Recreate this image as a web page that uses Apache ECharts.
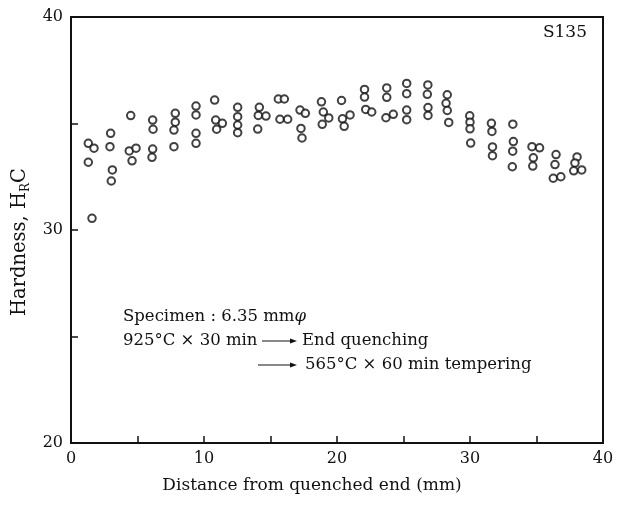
<!DOCTYPE html>
<html>
<head>
<meta charset="utf-8">
<script src="https://cdn.jsdelivr.net/npm/echarts@6/dist/echarts.min.js"></script>
<style>
html, body { margin: 0; padding: 0; background: #fff; }
#main { width: 621px; height: 505px; }
</style>
</head>
<body>
<div id="main"></div>
<script>
// distance from quenched end (mm) and hardness (HRC)
const distanceMm = [
	1.30, 1.73, 1.30, 1.58,
	2.98, 2.93, 3.11, 3.03,
	4.49, 4.38, 4.89, 4.59,
	6.14, 6.17, 6.14, 6.09,
	7.84, 7.84, 7.74, 7.74,
	9.40, 9.40, 9.40, 9.40,
	10.80, 10.88, 11.38, 10.95,
	12.53, 12.53, 12.53, 12.53,
	14.16, 14.08, 14.66, 14.04,
	15.59, 16.04, 15.71, 16.29,
	17.22, 17.62, 17.29, 17.37,
	18.83, 18.97, 19.38, 18.89,
	20.34, 20.98, 20.41, 20.54,
	22.07, 22.07, 22.16, 22.61,
	23.74, 23.74, 24.23, 23.68,
	25.24, 25.24, 25.24, 25.24,
	26.83, 26.79, 26.84, 26.84,
	28.29, 28.20, 28.29, 28.40,
	29.98, 30.00, 30.00, 30.05,
	31.61, 31.65, 31.69, 31.69,
	33.22, 33.26, 33.21, 33.18,
	34.66, 35.23, 34.76, 34.72,
	36.47, 36.39, 36.26, 36.83,
	38.05, 37.89, 37.80, 38.40
];
const hardnessHRC = [
	34.07, 33.84, 33.18, 30.55,
	34.54, 33.91, 32.82, 32.30,
	35.37, 33.71, 33.84, 33.25,
	35.16, 34.73, 33.80, 33.41,
	35.48, 35.06, 34.69, 33.91,
	35.82, 35.40, 34.54, 34.07,
	36.10, 35.16, 35.01, 34.73,
	35.76, 35.32, 34.93, 34.57,
	35.76, 35.38, 35.35, 34.74,
	36.15, 36.15, 35.20, 35.20,
	35.63, 35.48, 34.77, 34.32,
	36.02, 35.54, 35.26, 34.96,
	36.08, 35.40, 35.22, 34.87,
	36.60, 36.24, 35.66, 35.54,
	36.67, 36.23, 35.43, 35.27,
	36.88, 36.40, 35.63, 35.18,
	36.81, 36.37, 35.75, 35.38,
	36.35, 35.95, 35.61, 35.05,
	35.36, 35.06, 34.75, 34.08,
	35.01, 34.63, 33.90, 33.49,
	34.97, 34.15, 33.70, 32.97,
	33.91, 33.86, 33.39, 33.00,
	33.54, 33.07, 32.43, 32.50,
	33.43, 33.15, 32.78, 32.82
];
const xTickLabels = [0, 10, 20, 30, 40];
const yTickLabels = [20, 30, 40];

const serif = 'DejaVu Serif';
const ink = '#111';
const chart = echarts.init(document.getElementById('main'));
const points = distanceMm.map((d, i) => [d, hardnessHRC[i]]);

// arrow: line + small head
function arrow(x1, x2, y){
	return {
		type: 'group',
		children: [
			{type: 'line', shape: {x1: x1, y1: y, x2: x2 - 5, y2: y}, style: {stroke: ink, lineWidth: 1}},
			{type: 'polygon', shape: {points: [[x2, y], [x2 - 7, y - 2.5], [x2 - 7, y + 2.5]]}, style: {fill: ink}}
		]
	};
}
function note(text, x, y){
	return {
		type: 'text', x: x, y: y,
		style: {text: text, fontFamily: serif, fontSize: 16.5, fill: ink, align: 'left', verticalAlign: 'middle'}
	};
}

const option = {
	animation: false,
	backgroundColor: '#fff',
	grid: {
		left: 71, right: 18, top: 17, bottom: 62,
		show: true, borderColor: ink, borderWidth: 2
	},
	xAxis: {
		type: 'value', min: 0, max: 40, interval: 5,
		name: 'Distance from quenched end (mm)',
		nameLocation: 'middle', nameGap: 34,
		nameTextStyle: {fontFamily: serif, fontSize: 17, color: ink, padding: [0, 50, 0, 0]},
		axisLine: {show: true, lineStyle: {color: ink, width: 2}},
		axisTick: {show: true, inside: true, length: 7, lineStyle: {color: ink, width: 1.5}},
		axisLabel: {
			margin: 8, fontFamily: serif, fontSize: 16, color: ink,
			formatter: v => xTickLabels.includes(v) ? String(v) : ''
		},
		splitLine: {show: false}
	},
	yAxis: {
		type: 'value', min: 20, max: 40, interval: 5,
		name: '{t|Hardness, H}{s|R}{t|C}',
		nameLocation: 'middle', nameGap: 37,
		nameTextStyle: {
			padding: [0, 24, 0, 0],
			rich: {
				t: {fontFamily: serif, fontSize: 19.5, color: ink, lineHeight: 24},
				s: {fontFamily: serif, fontSize: 12, color: ink, lineHeight: 24, verticalAlign: 'bottom'}
			}
		},
		axisLine: {show: true, lineStyle: {color: ink, width: 2}},
		axisTick: {show: true, inside: true, length: 7, lineStyle: {color: ink, width: 1.5}},
		axisLabel: {
			margin: 8, fontFamily: serif, fontSize: 16, color: ink,
			formatter: v => yTickLabels.includes(v) ? String(v) : ''
		},
		splitLine: {show: false}
	},
	graphic: [
		{
			type: 'text', x: 587, y: 33,
			style: {text: 'S135', fontFamily: serif, fontSize: 17, fill: ink, align: 'right', verticalAlign: 'middle'}
		},
		{
			type: 'text', x: 123, y: 317,
			style: {
				text: '{n|Specimen : 6.35 mm}{p|φ}', align: 'left', verticalAlign: 'middle',
				rich: {
					n: {fontFamily: serif, fontSize: 16.5, fill: ink},
					p: {fontFamily: serif, fontSize: 16.5, fill: ink, fontStyle: 'italic'}
				}
			}
		},
		note('925°C × 30 min', 123, 341),
		arrow(262, 297, 341),
		note('End quenching', 302, 341),
		arrow(258, 297, 365),
		note('565°C × 60 min tempering', 305, 365)
	],
	series: [{
		type: 'scatter',
		symbol: 'circle',
		symbolSize: 7.5,
		itemStyle: {color: '#fff', borderColor: ink, borderWidth: 2},
		emphasis: {disabled: true},
		data: points
	}]
};
chart.setOption(option);
</script>
</body>
</html>
